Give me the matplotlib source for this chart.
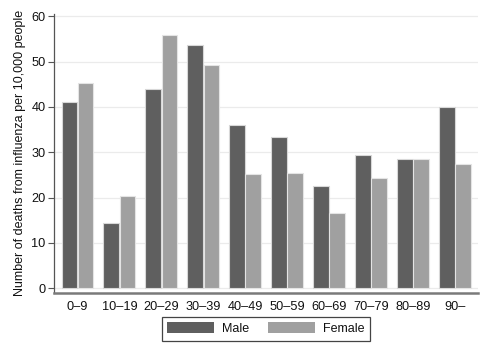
import numpy as np
import matplotlib
matplotlib.use("Agg")
import matplotlib.pyplot as plt

plt.rcParams['font.family'] = ['Liberation Sans', 'DejaVu Sans']

age_groups = ["0\u20139", "10\u201319", "20\u201329", "30\u201339", "40\u201349",
              "50\u201359", "60\u201369", "70\u201379", "80\u201389", "90\u2013"]
male = [41.0, 14.3, 43.9, 53.7, 35.9, 33.3, 22.5, 29.4, 28.6, 39.9]
female = [45.3, 20.3, 55.9, 49.2, 25.1, 25.4, 16.5, 24.3, 28.6, 27.5]

fig = plt.figure(figsize=(4.91, 3.57), dpi=100)
ax = fig.add_axes([0.110, 0.180, 0.8635, 0.781])

x = np.arange(len(age_groups))
w = 0.375
ax.bar(x - w / 2 - 0.006, male, width=w, color="#5f5f5f", edgecolor="#d8d8d8",
       linewidth=0.8, label="Male", zorder=3)
ax.bar(x + w / 2 + 0.006, female, width=w, color="#a0a0a0", edgecolor="#e4e4e4",
       linewidth=0.8, label="Female", zorder=3)

ax.set_xlim(-0.56, 9.55)
ax.set_ylim(-1, 60.5)
ax.set_yticks(range(0, 61, 10))
ax.set_xticks(x)
ax.set_xticklabels(age_groups)
ax.tick_params(axis='x', length=0, labelsize=9.2, pad=6, colors='#111111')
ax.tick_params(axis='y', length=4, width=0.8, color='#555555', labelsize=9.2,
               pad=2, labelcolor='#111111')
ax.yaxis.grid(True, color='#ebebeb', linewidth=0.9, zorder=0)

for s in ['top', 'right']:
    ax.spines[s].set_visible(False)
ax.spines['left'].set_color('#555555')
ax.spines['left'].set_linewidth(0.9)
ax.spines['bottom'].set_color('#7a7a7a')
ax.spines['bottom'].set_linewidth(1.8)

ax.set_ylabel("Number of deaths from influenza per 10,000 people", fontsize=9,
              color='#111111', labelpad=4)

leg = fig.legend(loc='center', bbox_to_anchor=(0.542, 0.079), ncol=2,
                 fontsize=9, handlelength=3.75, handleheight=0.95,
                 columnspacing=1.5, handletextpad=0.65, fancybox=False,
                 borderpad=0.45, borderaxespad=0, framealpha=1)
leg.get_frame().set_edgecolor('#444444')
leg.get_frame().set_linewidth(0.9)
for p in leg.get_patches():
    p.set_edgecolor('none')
for t in leg.get_texts():
    t.set_color('#111111')

fig.savefig("out.png", dpi=100)
